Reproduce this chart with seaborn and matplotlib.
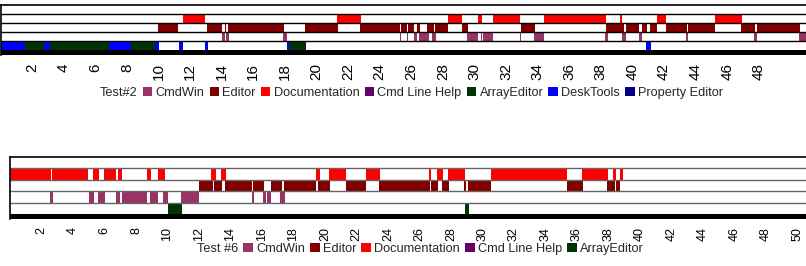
import matplotlib
matplotlib.use("Agg")
import matplotlib.pyplot as plt
import seaborn as sns
from matplotlib.patches import Patch

sns.set_theme(style="white")
plt.rcParams['font.family'] = ['Liberation Sans', 'DejaVu Sans']

# couleurs des outils
colors = {
    'CmdWin': '#993366',
    'Editor': '#800000',
    'Documentation': '#ff0000',
    'Cmd Line Help': '#660066',
    'ArrayEditor': '#003300',
    'DeskTools': '#0000ff',
    'Property Editor': '#000080',
}

# Test#2 : intervalles (debut, fin)
t2_cmdwin = [(14.03, 14.20), (14.26, 14.49), (17.89, 18.13), (25.27, 25.36), (25.70, 25.78),
             (25.95, 26.01), (26.20, 26.33), (26.49, 27.12), (27.32, 27.59), (29.54, 30.22),
             (30.42, 30.49), (30.55, 31.18), (32.87, 32.96), (33.77, 34.40), (38.29, 38.44),
             (39.35, 39.59), (40.40, 40.61), (43.39, 43.51), (47.72, 47.89), (50.54, 51.0)]
t2_editor = [(9.96, 11.22), (13.08, 14.05), (14.18, 14.30), (14.43, 17.97), (19.28, 21.33),
             (22.75, 25.28), (25.36, 25.70), (25.78, 25.95), (25.99, 26.20), (26.33, 26.55),
             (27.01, 27.42), (27.53, 28.31), (29.22, 29.62), (32.93, 33.80), (38.35, 39.45),
             (39.56, 40.40), (40.61, 40.93), (41.08, 41.52), (42.09, 43.42), (43.50, 45.25),
             (46.88, 47.78), (47.89, 50.59)]
t2_doc = [(11.54, 12.97), (21.28, 22.80), (28.34, 29.24), (30.19, 30.46), (31.18, 32.87),
          (34.39, 38.35), (39.20, 39.32), (41.52, 42.15), (45.19, 46.94)]
t2_array = [(1.54, 2.74), (3.12, 6.86), (8.23, 9.75), (18.27, 19.32)]
t2_desk = [(0.0, 1.54), (2.74, 3.12), (6.86, 8.23), (9.75, 10.02), (11.28, 11.56),
           (12.97, 13.12), (18.12, 18.27), (40.84, 41.16)]

# Test #6
t6_cmdwin = [(2.53, 2.74), (5.00, 5.32), (5.59, 6.02), (6.72, 6.97), (7.08, 8.70),
             (8.92, 9.40), (9.72, 10.04), (10.83, 12.01), (15.37, 15.48), (16.07, 16.24),
             (16.34, 16.60), (17.17, 17.45)]
t6_editor = [(12.01, 12.90), (12.96, 13.47), (13.64, 15.37), (15.44, 16.13), (16.60, 17.30),
             (17.38, 19.46), (19.56, 20.30), (21.32, 22.59), (23.43, 26.65), (26.76, 27.18),
             (27.46, 27.88), (28.81, 28.98), (29.08, 30.57), (35.37, 36.35), (37.91, 38.40),
             (38.46, 38.76)]
t6_doc = [(0.0, 2.60), (2.68, 4.96), (5.28, 5.64), (5.97, 6.72), (6.84, 7.08), (8.70, 8.98),
          (9.37, 9.83), (12.75, 13.05), (13.38, 13.70), (19.42, 19.67), (20.26, 21.32),
          (22.59, 23.48), (26.61, 26.76), (27.14, 27.50), (27.82, 28.88), (30.51, 35.37),
          (36.29, 37.98), (38.29, 38.46), (38.72, 38.89)]
t6_array = [(10.0, 10.89), (28.92, 29.15)]

t2_ticks = list(range(2, 49, 2))
t6_ticks = list(range(2, 51, 2))

t2_legend = ['CmdWin', 'Editor', 'Documentation', 'Cmd Line Help', 'ArrayEditor', 'DeskTools', 'Property Editor']
t6_legend = ['CmdWin', 'Editor', 'Documentation', 'Cmd Line Help', 'ArrayEditor']


def draw_panel(ax, lanes, xmax, ticks, black_h, line_color, tick_fs):
    for lane, (name, segs) in lanes:
        starts = [s for s, e in segs]
        widths = [e - s for s, e in segs]
        ax.barh(lane, widths, left=starts, height=1, align='edge',
                color=colors[name], linewidth=0)
    ax.axhspan(-black_h, 0, color='black', lw=0)
    for y in range(1, 5):
        ax.axhline(y, color=line_color, lw=1)
    ax.set_xlim(0, xmax)
    ax.set_ylim(-black_h, 5)
    ax.set_yticks([])
    ax.set_xticks(ticks)
    ax.set_xticklabels([str(t) for t in ticks], rotation=90, fontsize=tick_fs, color='black')
    ax.tick_params(axis='x', length=0, pad=6)
    for side in ['bottom', 'right']:
        ax.spines[side].set_visible(False)
    for side in ['top', 'left']:
        ax.spines[side].set_color('black')
        ax.spines[side].set_linewidth(1.2)


fig = plt.figure(figsize=(8.06, 2.66), dpi=100)
W, H = 806, 266

ax1 = fig.add_axes([0.5 / W, (H - 55) / H, 1, 50 / H])
draw_panel(ax1, [(0, ('ArrayEditor', t2_array)), (0, ('DeskTools', t2_desk)),
                 (1, ('CmdWin', t2_cmdwin)), (2, ('Editor', t2_editor)),
                 (3, ('Documentation', t2_doc))],
           806 / 15.8, t2_ticks, 5 / 9, 'black', 11)

ax2 = fig.add_axes([10 / W, (H - 219) / H, 796 / W, 62 / H])
draw_panel(ax2, [(0, ('ArrayEditor', t6_array)), (1, ('CmdWin', t6_cmdwin)),
                 (2, ('Editor', t6_editor)), (3, ('Documentation', t6_doc))],
           796 / 15.75, t6_ticks, 5 / 11.4, '#666666', 9)


def add_legend(title, names, cx, cy):
    handles = [Patch(facecolor='none', edgecolor='none', label=title)]
    handles += [Patch(facecolor=colors[n], edgecolor='none', label=n) for n in names]
    fig.legend(handles=handles, loc='center', bbox_to_anchor=(cx / W, 1 - cy / H),
               ncol=len(handles), frameon=False, fontsize=9.2, handlelength=0.75,
               handleheight=0.75, handletextpad=0.25, columnspacing=0.4, borderpad=0)


add_legend('Test#2', t2_legend, 405, 93)
add_legend('Test #6', t6_legend, 414, 249)

fig.savefig('out.png', dpi=100)
